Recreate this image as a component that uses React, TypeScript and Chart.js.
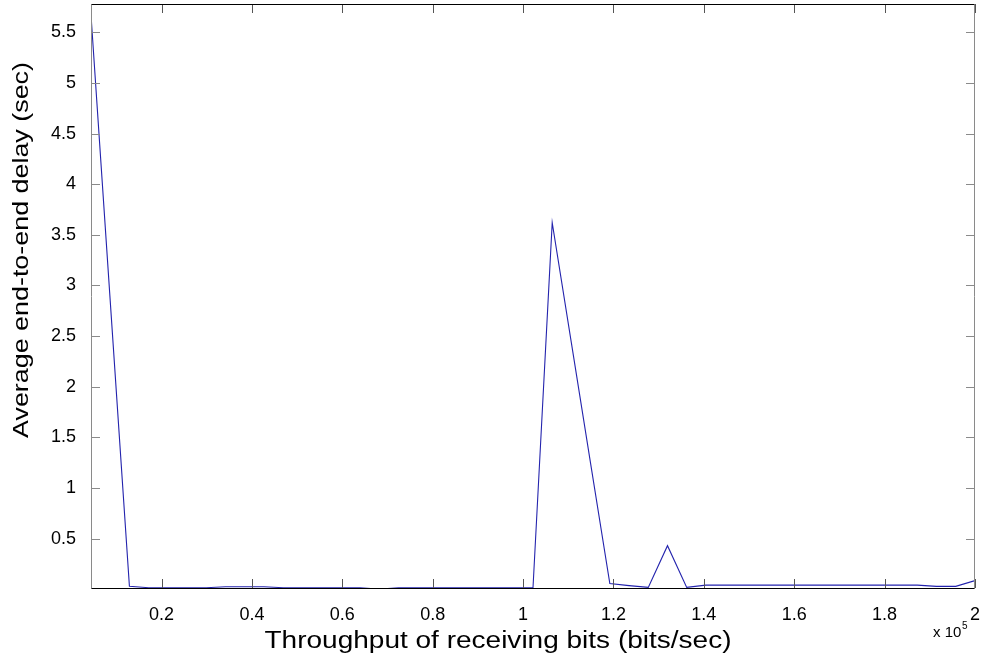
import React, { useEffect, useRef } from "react";
import { Chart, registerables } from "chart.js";

Chart.register(...registerables);

// Throughput of receiving bits (bits/sec)
const throughput: number[] = [
  4400, 8650, 12900, 17160, 21410, 25660, 29910, 34160, 38420, 42670,
  46920, 51170, 55420, 59680, 63930, 68180, 72430, 76680, 80940, 85190,
  89440, 93690, 97940, 102200, 106450, 110700, 114950, 119200, 123460, 127710,
  131960, 136210, 140460, 144720, 148970, 153220, 157470, 161720, 165980, 170230,
  174480, 178730, 182980, 187240, 191490, 195740, 200000,
];

// Average end-to-end delay (sec)
const delay: number[] = [
  5.67, 2.85, 0.03, 0.015, 0.015, 0.015, 0.015, 0.025, 0.025, 0.025,
  0.015, 0.015, 0.015, 0.015, 0.015, 0.0, 0.015, 0.015, 0.015, 0.015,
  0.015, 0.015, 0.015, 0.015, 3.62, 2.43, 1.24, 0.056, 0.035, 0.018,
  0.43, 0.018, 0.04, 0.04, 0.04, 0.04, 0.04, 0.04, 0.04, 0.04,
  0.04, 0.04, 0.04, 0.04, 0.028, 0.028, 0.085,
];

const xTicks: number[] = [20000, 40000, 60000, 80000, 100000, 120000, 140000, 160000, 180000, 200000];
const yTicks: number[] = [0.5, 1, 1.5, 2, 2.5, 3, 3.5, 4, 4.5, 5, 5.5];

const xMin = 4400;
const xMax = 200000;
const yMin = 0.012;
const yMax = 5.78;

const xTitle = "Throughput of receiving bits (bits/sec)";
const yTitle = "Average end-to-end delay (sec)";

const FONT = "'Liberation Sans', Arial, Helvetica, sans-serif";

const W = 981;
const H = 655;

// Draws a line of text stretched along its direction to a given length.
function fitText(ctx: CanvasRenderingContext2D, text: string, width: number) {
  const m = ctx.measureText(text).width;
  ctx.scale(width / m, 1);
  ctx.fillText(text, -m / 2, 0);
}

const frame = {
  id: "frame",
  afterDatasetsDraw(chart: any) {
    const { ctx, chartArea: a, scales } = chart;
    const xs = scales.x;
    const ys = scales.y;
    const tick = 9;
    ctx.save();
    ctx.lineWidth = 1;

    // inward ticks on all four sides
    ctx.strokeStyle = "#555";
    ctx.beginPath();
    for (const v of xTicks) {
      const px = Math.round(xs.getPixelForValue(v)) + 0.5;
      ctx.moveTo(px, a.bottom);
      ctx.lineTo(px, a.bottom - tick);
      ctx.moveTo(px, a.top);
      ctx.lineTo(px, a.top + tick);
    }
    ctx.stroke();
    ctx.strokeStyle = "#8a8a8a";
    ctx.beginPath();
    for (const v of yTicks) {
      const py = Math.round(ys.getPixelForValue(v)) + 0.5;
      ctx.moveTo(a.left, py);
      ctx.lineTo(a.left + tick, py);
      ctx.moveTo(a.right, py);
      ctx.lineTo(a.right - tick, py);
    }
    ctx.stroke();

    // box
    const l = Math.round(a.left) + 0.5;
    const r = Math.round(a.right) - 0.5;
    const t = Math.round(a.top) + 0.5;
    const b = Math.round(a.bottom) + 0.5;
    ctx.strokeStyle = "#8a8a8a";
    ctx.beginPath();
    ctx.moveTo(l, t);
    ctx.lineTo(l, b);
    ctx.moveTo(r, t);
    ctx.lineTo(r, b);
    ctx.stroke();
    ctx.strokeStyle = "#000";
    ctx.beginPath();
    ctx.moveTo(l, t);
    ctx.lineTo(r, t);
    ctx.moveTo(l, b);
    ctx.lineTo(r, b);
    ctx.stroke();

    // axis titles
    ctx.fillStyle = "#000";
    ctx.textBaseline = "alphabetic";
    ctx.font = `23px ${FONT}`;
    ctx.save();
    ctx.translate(498, 648);
    fitText(ctx, xTitle, 467);
    ctx.restore();

    ctx.save();
    ctx.translate(28, 250);
    ctx.rotate(-Math.PI / 2);
    ctx.font = `22px ${FONT}`;
    fitText(ctx, yTitle, 376);
    ctx.restore();

    // exponent label
    ctx.font = `15px ${FONT}`;
    ctx.textAlign = "left";
    ctx.fillText("x 10", 933, 637);
    ctx.font = `10px ${FONT}`;
    ctx.fillText("5", 962, 629);
    ctx.restore();
  },
};

export default function App() {
  const ref = useRef<HTMLCanvasElement | null>(null);

  useEffect(() => {
    const canvas = ref.current;
    if (!canvas) return;
    const chart = new Chart(canvas, {
      type: "line",
      data: {
        datasets: [
          {
            data: throughput.map((x, i) => ({ x, y: delay[i] })),
            borderColor: "#2323ad",
            borderWidth: 1.1,
            pointRadius: 0,
            tension: 0,
            fill: false,
          },
        ],
      },
      options: {
        animation: false,
        responsive: false,
        devicePixelRatio: 1,
        events: [],
        layout: { padding: { top: 4, right: 6, left: 0, bottom: 0 } },
        plugins: {
          legend: { display: false },
          tooltip: { enabled: false },
          title: { display: false },
        },
        scales: {
          x: {
            type: "linear",
            min: xMin,
            max: xMax,
            grid: { display: false },
            border: { display: false },
            afterBuildTicks: (s: any) => {
              s.ticks = xTicks.map((value) => ({ value }));
            },
            afterFit: (s: any) => {
              s.height = 67;
              s.paddingLeft = 0;
              s.paddingRight = 0;
              s.paddingTop = 0;
              s.paddingBottom = 0;
            },
            ticks: {
              autoSkip: false,
              maxRotation: 0,
              padding: 8,
              color: "#000",
              font: { family: FONT, size: 18 },
              callback: (v: any) => String(Math.round((Number(v) / 1e5) * 10) / 10),
            },
          },
          y: {
            type: "linear",
            min: yMin,
            max: yMax,
            grid: { display: false },
            border: { display: false },
            afterBuildTicks: (s: any) => {
              s.ticks = yTicks.map((value) => ({ value }));
            },
            afterFit: (s: any) => {
              s.width = 91;
              s.paddingLeft = 0;
              s.paddingRight = 0;
              s.paddingTop = 0;
              s.paddingBottom = 0;
            },
            ticks: {
              autoSkip: false,
              padding: 7,
              color: "#000",
              font: { family: FONT, size: 18 },
              callback: (v: any) => String(v),
            },
          },
        },
      },
      plugins: [frame],
    });
    return () => chart.destroy();
  }, []);

  return (
    <div style={{ position: "fixed", left: 0, top: 0, width: W, height: H, background: "#fff" }}>
      <canvas ref={ref} width={W} height={H} style={{ display: "block", width: W, height: H }} />
    </div>
  );
}
